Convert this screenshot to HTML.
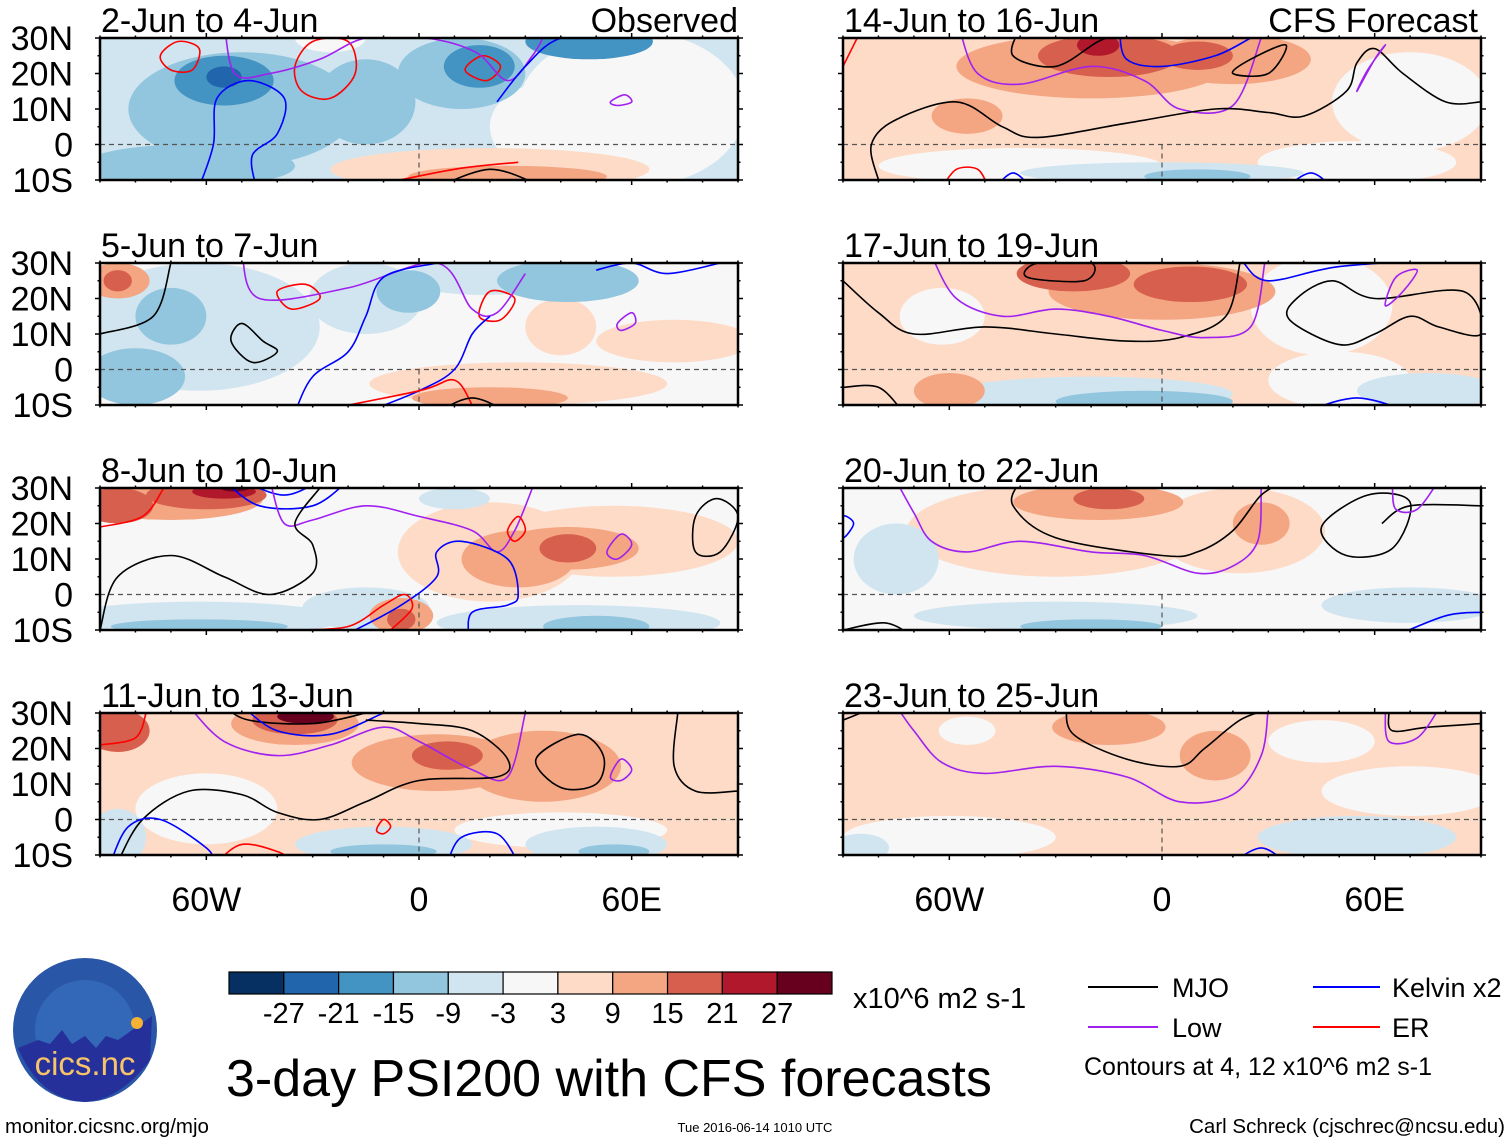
<!DOCTYPE html>
<html><head><meta charset="utf-8">
<style>
html,body{margin:0;padding:0;background:#fff;}
body{width:1510px;height:1142px;overflow:hidden;font-family:"Liberation Sans",sans-serif;}
svg text{font-family:"Liberation Sans",sans-serif;}
</style></head>
<body>
<svg id="fig" xmlns="http://www.w3.org/2000/svg" width="1510" height="1142" viewBox="0 0 1510 1142">
<rect width="1510" height="1142" fill="#fff"/>
<g id="panels"></g>
<g id="labels"></g>
<g id="colorbar"></g>
<text x="853" y="1008" font-size="29">x10^6 m2 s-1</text>
<text x="226" y="1096" font-size="52">3-day PSI200 with CFS forecasts</text>
<g>
<line x1="1088" y1="987" x2="1158" y2="987" stroke="#000" stroke-width="2"/>
<text x="1172" y="997" font-size="27">MJO</text>
<line x1="1313" y1="987" x2="1380" y2="987" stroke="#0000ff" stroke-width="2"/>
<text x="1392" y="997" font-size="27">Kelvin x2</text>
<line x1="1088" y1="1027" x2="1158" y2="1027" stroke="#a020f0" stroke-width="2"/>
<text x="1172" y="1037" font-size="27">Low</text>
<line x1="1313" y1="1027" x2="1380" y2="1027" stroke="#ff0000" stroke-width="2"/>
<text x="1392" y="1037" font-size="27">ER</text>
<text x="1084" y="1075" font-size="25">Contours at 4, 12 x10^6 m2 s-1</text>
</g>
<g>
<circle cx="85" cy="1030" r="72" fill="#2a56a8"/>
<circle cx="85" cy="1030" r="50" fill="#3a74c4" opacity="0.6"/>
<path d="M18,1048 L38,1040 L50,1044 L62,1030 L72,1044 L85,1036 L96,1048 L106,1036 L118,1040 L152,1016 L150,1060 Q120,1100 85,1102 Q40,1100 18,1048Z" fill="#26309a"/>
<circle cx="137" cy="1023" r="6" fill="#f6b233"/>
<text x="85" y="1075" font-size="33" fill="#f7c46a" text-anchor="middle">cics.nc</text>
</g>
<text x="5" y="1133" font-size="20.5">monitor.cicsnc.org/mjo</text>
<text x="755" y="1132" font-size="13" text-anchor="middle">Tue 2016-06-14 1010 UTC</text>
<text x="1505" y="1133" font-size="20.5" text-anchor="end">Carl Schreck (cjschrec@ncsu.edu)</text>
</svg>
<script>
const NS='http://www.w3.org/2000/svg';
const levelColors=['#053061','#2166ac','#4393c3','#92c5de','#d1e5f0','#f7f7f7','#fddbc7','#f4a582','#d6604d','#b2182b','#67001f'];
const levelTicks=['-27','-21','-15','-9','-3','3','9','15','21','27'];
const panelTitles=['2-Jun to 4-Jun','5-Jun to 7-Jun','8-Jun to 10-Jun','11-Jun to 13-Jun','14-Jun to 16-Jun','17-Jun to 19-Jun','20-Jun to 22-Jun','23-Jun to 25-Jun'];
const latTicks=[30,20,10,0,-10];
const lonTicks=[-60,0,60];
const panelBackground=[4,5,5,6,6,6,5,6];
const blobs1=[[-50,10,32,16,3],[-65,-6,30,6,3],[-15,12,14,12,3],[-55,18,14,7,2],[-55,19,5,3,1],[12,20,18,10,3],[17,22,10,6,2],[48,29,18,5,2],[60,10,32,22,5],[35,5,15,12,5],[20,-7,45,6,6],[25,-9,28,3,7],[-25,30,10,4,5]];
const blobs2=[[-62,12,34,18,4],[-80,-2,14,8,3],[-70,15,10,8,3],[-15,20,16,10,4],[-3,22,9,6,3],[18,26,22,5,4],[42,25,20,6,3],[-85,25,9,5,7],[-85,25,4,3,8],[28,-4,42,6,6],[20,-8,22,3,7],[72,8,22,6,6],[40,12,10,8,6]];
const blobs3=[[-70,27,26,6,7],[-60,28,17,4,8],[-55,29,9,2,9],[-52,30,4,1,10],[-85,25,10,5,8],[-62,-7,40,5,4],[-62,-9,25,2,3],[45,-8,40,5,4],[50,-9,15,3,3],[-15,-4,18,6,4],[20,12,26,14,6],[28,10,16,8,7],[42,13,20,6,7],[42,13,8,4,8],[55,15,35,10,6],[-5,-6,9,5,7],[-5,-7,4,3,8],[10,27,10,3,4]];
const blobs4=[[-35,27,18,6,7],[-35,28,12,4,8],[-32,29,8,2,10],[-85,25,9,6,8],[5,16,24,8,7],[8,18,10,4,8],[35,15,22,10,7],[-60,3,20,10,5],[40,-3,30,5,5],[50,-7,20,5,4],[55,-9,10,2,3],[-10,-7,25,5,4],[-85,-5,8,8,4],[-10,-9,15,2,3]];
const blobs5=[[-20,22,38,9,7],[-15,25,20,6,8],[-18,28,6,3,9],[20,24,22,7,7],[10,25,10,4,8],[-55,8,10,5,7],[-40,-6,40,5,5],[0,-8,40,3,4],[10,-9,15,2,3],[55,-5,28,6,5],[70,12,22,14,5]];
const blobs6=[[0,22,32,8,7],[8,24,16,5,8],[-25,27,16,5,8],[-60,-6,10,5,7],[-20,-7,40,5,4],[-5,-9,25,3,3],[75,-6,20,5,4],[45,18,20,14,5],[50,-3,20,8,5],[-62,15,12,8,5]];
const blobs7=[[-30,18,42,13,6],[-18,26,24,5,7],[-15,27,10,3,8],[22,18,24,12,6],[28,20,8,6,7],[-30,-6,40,4,4],[-20,-9,20,2,3],[70,-3,25,5,4],[-75,10,12,10,4]];
const blobs8=[[-60,-5,30,6,5],[-85,-8,8,4,4],[55,-5,28,6,4],[-15,26,16,5,7],[15,18,10,7,7],[-55,25,8,4,5],[45,22,15,6,5],[70,8,25,7,5]];
const panelBlobs=[blobs1,blobs2,blobs3,blobs4,blobs5,blobs6,blobs7,blobs8];
const contours1=[['er',1,[[-73,25],[-68,29],[-62,27],[-64,21],[-70,21]]],['er',1,[[-35,22],[-30,29],[-20,29],[-18,20],[-25,13],[-33,15]]],['er',1,[[13,21],[18,25],[23,22],[19,18]]],['low',0,[[-55,35],[-52,20],[-42,20],[-28,24],[-15,30],[2,30],[16,26],[25,18],[32,25],[36,32]]],['low',1,[[54,12],[58,14],[60,12],[56,11]]],['kel',0,[[-62,-12],[-58,0],[-57,13],[-48,18],[-38,13],[-40,3],[-47,-3],[-46,-12]]],['kel',0,[[22,12],[30,22],[40,30],[60,33]]],['er',0,[[-15,-12],[10,-7],[28,-5]]],['mjo',0,[[5,-12],[20,-7],[33,-11]]]];
const contours2=[['mjo',1,[[-50,13],[-44,8],[-40,5],[-47,2],[-53,8]]],['er',1,[[-40,22],[-32,24],[-28,20],[-36,17]]],['er',1,[[17,15],[20,22],[27,20],[23,14]]],['low',0,[[-50,33],[-45,20],[-20,23],[5,30],[15,17],[22,16],[30,27]]],['low',1,[[56,13],[60,16],[61,13],[57,11]]],['kel',0,[[-35,-12],[-30,-2],[-20,5],[-15,15],[-10,26],[5,30]]],['kel',0,[[-15,-12],[0,-6],[10,0],[15,10],[20,15]]],['er',0,[[-30,-12],[0,-6],[10,-3],[15,-10]]],['mjo',0,[[5,-12],[15,-8],[25,-12]]],['kel',0,[[50,28],[60,30],[70,27],[85,30]]],['mjo',0,[[-90,10],[-75,15],[-70,30]]]];
const contours3=[['er',0,[[-90,19],[-78,22],[-72,30]]],['kel',0,[[-55,32],[-45,25],[-30,25],[-20,32]]],['kel',0,[[-50,32],[-38,28],[-28,32]]],['low',0,[[-42,32],[-38,20],[-30,21],[-15,25],[0,22],[15,18],[22,12],[27,18],[32,30]]],['mjo',0,[[-90,-10],[-85,5],[-70,11],[-55,5],[-42,0],[-30,6],[-30,14],[-35,20],[-28,30]]],['kel',0,[[-18,-10],[-5,-3],[5,5],[5,12],[12,15],[25,10],[28,0],[25,-3],[15,-5],[14,-12]]],['er',0,[[-35,-10],[-20,-9],[-10,-3],[-4,0],[-2,-4],[-8,-10]]],['er',1,[[25,18],[28,22],[30,18],[27,15]]],['low',1,[[53,12],[57,17],[60,14],[56,10]]],['mjo',1,[[78,22],[84,27],[90,22],[85,12],[78,12]]]];
const contours4=[['er',0,[[-90,21],[-80,23],[-77,30]]],['mjo',0,[[-55,32],[-48,28],[-30,27],[-15,30]]],['kel',0,[[-50,32],[-40,25],[-25,24],[-10,30]]],['low',0,[[-65,32],[-55,22],[-40,18],[-25,21],[-10,26],[0,22],[15,14],[25,12],[30,30]]],['mjo',0,[[-85,-12],[-78,0],[-65,8],[-50,7],[-40,2],[-28,0],[-15,5],[0,11],[22,12],[25,17],[15,25],[0,27],[-15,28]]],['mjo',1,[[33,17],[45,24],[52,18],[50,10],[40,9]]],['low',1,[[54,12],[57,17],[60,14],[57,11]]],['mjo',0,[[73,30],[72,15],[78,8],[90,8]]],['kel',0,[[-87,-12],[-82,-2],[-73,0],[-60,-8],[-58,-12]]],['er',0,[[-57,-12],[-50,-7],[-40,-9],[-35,-12]]],['er',1,[[-12,-3],[-10,0],[-8,-2],[-10,-4]]],['kel',0,[[8,-12],[12,-5],[22,-4],[28,-12]]]];
const contours5=[['er',0,[[-90,22],[-86,30]]],['mjo',0,[[-40,33],[-42,25],[-30,22],[-18,29],[-10,32]]],['kel',0,[[-12,32],[-10,24],[0,22],[15,25],[25,30]]],['low',0,[[-57,32],[-52,20],[-40,17],[-20,22],[-5,18],[5,10],[20,11],[28,30]]],['mjo',0,[[-80,-10],[-82,0],[-75,7],[-58,12],[-45,5],[-35,2],[-10,6],[15,10],[30,9],[40,8],[52,15],[55,23],[60,27],[68,20],[80,12],[90,12]]],['mjo',1,[[20,20],[25,24],[35,28],[30,20]]],['low',1,[[55,15],[60,24],[63,28],[58,21]]],['er',0,[[-62,-12],[-58,-7],[-52,-7],[-49,-12]]],['kel',0,[[-47,-12],[-42,-8],[-37,-12]]],['kel',0,[[35,-12],[42,-8],[48,-12]]]];
const contours6=[['mjo',0,[[-90,25],[-80,16],[-70,10],[-50,12],[-30,10],[-10,8],[5,9],[18,15],[22,30]]],['mjo',1,[[-38,26],[-35,30],[-20,30],[-22,25]]],['low',0,[[-65,32],[-58,20],[-45,15],[-30,17],[-15,15],[0,11],[12,9],[25,12],[29,30]]],['kel',0,[[23,30],[30,25],[50,29],[80,31]]],['mjo',1,[[36,14],[50,7],[60,10],[70,15],[78,12],[90,10],[85,22],[60,20],[48,25],[38,20]]],['low',1,[[63,18],[68,22],[72,28],[66,26]]],['mjo',0,[[-90,-5],[-80,-5],[-73,-12]]],['kel',0,[[40,-12],[55,-8],[70,-12]]]];
const contours7=[['kel',1,[[-90,22],[-87,20],[-90,16]]],['low',0,[[-75,32],[-70,23],[-65,15],[-55,12],[-40,15],[-20,12],[-5,11],[10,6],[20,8],[27,15],[28,30]]],['mjo',0,[[-40,32],[-42,25],[-30,16],[0,11],[10,12],[20,18],[28,28],[35,32]]],['mjo',1,[[45,19],[58,28],[70,26],[65,13],[52,11]]],['mjo',0,[[62,20],[70,25],[90,25]]],['low',0,[[65,30],[66,24],[72,24],[78,32]]],['mjo',0,[[-90,-10],[-78,-8],[-70,-12]]],['kel',0,[[-80,-12],[-70,-10],[-60,-12]]],['kel',0,[[65,-12],[80,-6],[90,-5]]]];
const contours8=[['mjo',0,[[-90,28],[-85,30]]],['low',0,[[-75,32],[-70,25],[-62,16],[-50,13],[-30,15],[-10,12],[5,5],[20,7],[28,18],[30,32]]],['mjo',0,[[-27,32],[-25,24],[-10,17],[5,15],[12,20],[22,28],[30,31]]],['mjo',0,[[64,30],[65,25],[75,26],[90,27]]],['low',0,[[63,31],[64,22],[72,23],[78,31]]],['kel',0,[[20,-12],[28,-8],[35,-12]]]];
const panelContours=[contours1,contours2,contours3,contours4,contours5,contours6,contours7,contours8];
const contourColor={mjo:'#000000',kel:'#0000ff',low:'#a020f0',er:'#ff0000'};

const colX=[100,843], rowY=[38,263,488,713], PW=638, PH=142;
function xScale(lon,c){return colX[c]+(lon+90)/180*PW;}
function yScale(lat,r){return rowY[r]+(30-lat)/40*PH;}
function el(tag,attrs,parent){const e=document.createElementNS(NS,tag);for(const k in attrs)e.setAttribute(k,attrs[k]);parent.appendChild(e);return e;}
function smoothPath(pts,closed){
  const n=pts.length;let d='M'+pts[0][0].toFixed(1)+','+pts[0][1].toFixed(1);
  const get=i=>closed?pts[(i+n)%n]:pts[Math.max(0,Math.min(n-1,i))];
  const segs=closed?n:n-1;
  for(let i=0;i<segs;i++){const p0=get(i-1),p1=get(i),p2=get(i+1),p3=get(i+2);
    const c1=[p1[0]+(p2[0]-p0[0])/6,p1[1]+(p2[1]-p0[1])/6],c2=[p2[0]-(p3[0]-p1[0])/6,p2[1]-(p3[1]-p1[1])/6];
    d+=' C'+c1[0].toFixed(1)+','+c1[1].toFixed(1)+' '+c2[0].toFixed(1)+','+c2[1].toFixed(1)+' '+p2[0].toFixed(1)+','+p2[1].toFixed(1);}
  return d+(closed?'Z':'');
}
const panelsG=document.getElementById('panels');
const defs=el('defs',{},panelsG);
for(let p=0;p<8;p++){
  const c=p<4?0:1, r=p%4;
  const x0=colX[c],y0=rowY[r];
  const cp=el('clipPath',{id:'clip'+p},defs);el('rect',{x:x0,y:y0,width:PW,height:PH},cp);
  const g=el('g',{'clip-path':'url(#clip'+p+')'},panelsG);
  
  
  el('rect',{x:x0,y:y0,width:PW,height:PH,fill:levelColors[panelBackground[p]]},g);
  const bl=panelBlobs[p].slice().sort((a,b)=>Math.abs(a[4]-5)-Math.abs(b[4]-5));
  bl.forEach(b=>{
    const e=el('ellipse',{cx:xScale(b[0],c),cy:yScale(b[1],r),rx:b[2]/180*PW,ry:b[3]/40*PH,fill:levelColors[b[4]]},g);
    
    
  });
  el('line',{x1:x0,x2:x0+PW,y1:yScale(0,r),y2:yScale(0,r),stroke:'#555','stroke-width':1.2,'stroke-dasharray':'5,4'},g);
  el('line',{x1:xScale(0,c),x2:xScale(0,c),y1:yScale(0,r),y2:y0+PH,stroke:'#555','stroke-width':1.2,'stroke-dasharray':'5,4'},g);
  panelContours[p].forEach(k=>{
    const pts=k[2].map(q=>[xScale(q[0],c),yScale(q[1],r)]);
    const e=el('path',{d:smoothPath(pts,k[1]===1),fill:'none',stroke:contourColor[k[0]],'stroke-width':1.6},g);
    
    
  });
  const fr=el('rect',{x:x0,y:y0,width:PW,height:PH,fill:'none',stroke:'#000','stroke-width':2.5},panelsG);
  
  
  for(let lon=-90;lon<=90;lon+=10){const x=xScale(lon,c),big=lon%60===0;
    el('line',{x1:x,x2:x,y1:y0,y2:y0-(big?5:2.5),stroke:'#000','stroke-width':1.5},panelsG);
    el('line',{x1:x,x2:x,y1:y0+PH,y2:y0+PH+(big?5:2.5),stroke:'#000','stroke-width':1.5},panelsG);}
  for(let lat=-10;lat<=30;lat+=5){const y=yScale(lat,r),big=lat%10===0;
    el('line',{x1:x0,x2:x0-(big?5:2.5),y1:y,y2:y,stroke:'#000','stroke-width':1.5},panelsG);
    el('line',{x1:x0+PW,x2:x0+PW+(big?5:2.5),y1:y,y2:y,stroke:'#000','stroke-width':1.5},panelsG);}
  const t=el('text',{x:x0+1,y:y0-6,'font-size':34},panelsG);t.textContent=panelTitles[p];
  
  
  if(c===0){latTicks.forEach(lat=>{const tt=el('text',{x:73,y:yScale(lat,r)+12,'font-size':34,'text-anchor':'end'},panelsG);
    tt.textContent=lat===0?'0':(Math.abs(lat)+(lat>0?'N':'S'));
    
    });}
}
const lab=document.getElementById('labels');
let tt=el('text',{x:738,y:32,'font-size':34,'text-anchor':'end'},lab);tt.textContent='Observed';


tt=el('text',{x:1478,y:32,'font-size':34,'text-anchor':'end'},lab);tt.textContent='CFS Forecast';


[0,1].forEach(c=>lonTicks.forEach(lon=>{const t=el('text',{x:xScale(lon,c),y:911,'font-size':34,'text-anchor':'middle'},lab);
  t.textContent=lon===0?'0':(Math.abs(lon)+(lon<0?'W':'E'));
  
  }));
const cb=document.getElementById('colorbar');const bx=229,bw=(832-229)/11;
levelColors.forEach((col,i)=>{const b=el('rect',{x:bx+i*bw,y:972,width:bw,height:22,fill:col,stroke:'#000','stroke-width':1.2},cb);
  
  });
levelTicks.forEach((v,i)=>{const t=el('text',{x:bx+(i+1)*bw,y:1023,'font-size':29,'text-anchor':'middle'},cb);t.textContent=v;
  
  });
</script>
</body></html>
